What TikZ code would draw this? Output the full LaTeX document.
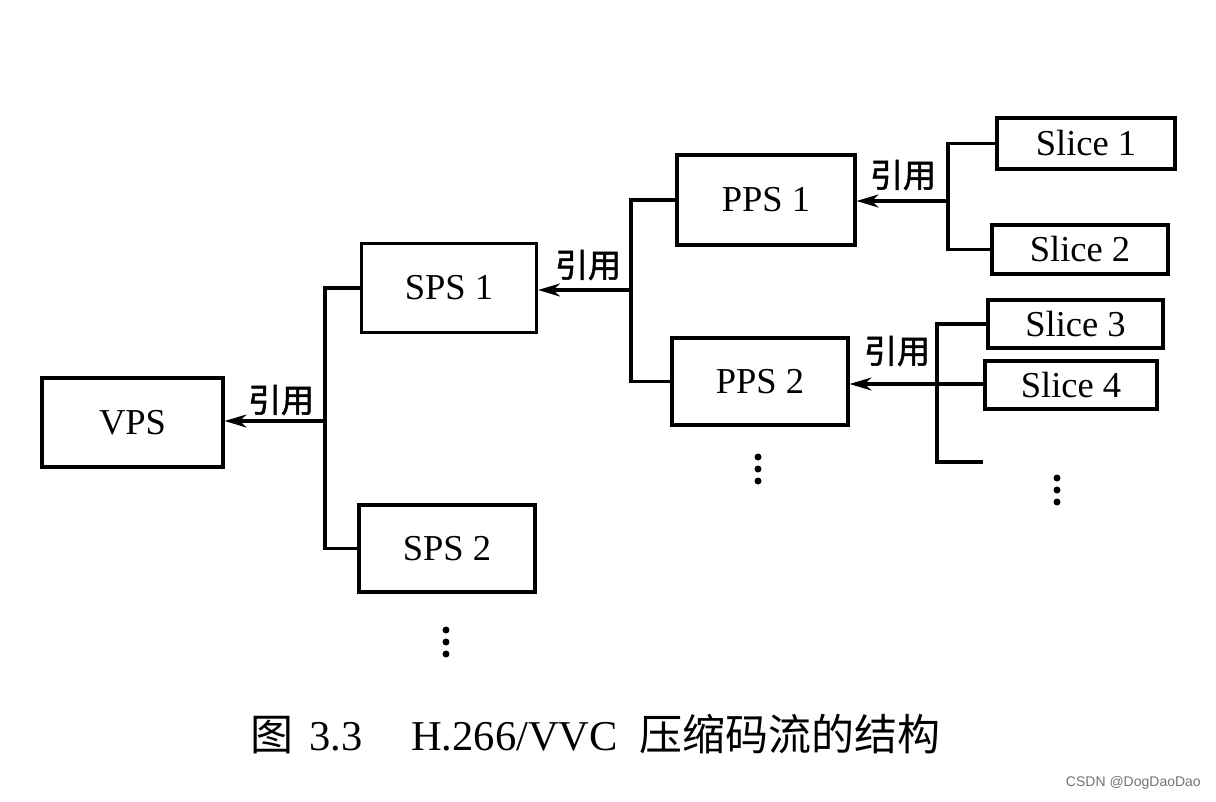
\documentclass[tikz,border=0pt]{standalone}
\usepackage{fontspec}
\setmainfont{Liberation Serif}
\newfontfamily\cjk{Noto Sans CJK SC}
\newfontfamily\cjkb[FakeBold=1.6]{Noto Sans CJK SC}
\newfontfamily\wmfont{Liberation Sans}
\usetikzlibrary{arrows.meta}
\begin{document}
\begin{tikzpicture}[x=1pt,y=-1pt,
  box/.style={draw,line width=3.1pt,inner sep=0pt,font=\fontsize{36.5}{40}\selectfont},
  slicebox/.style={box,minimum height=49pt},
  line/.style={line width=3.1pt},
  arr/.style={line width=3.1pt,-{Stealth[length=22pt,width=13pt,inset=7pt]}},
  refl/.style={font=\cjkb\fontsize{33}{36}\selectfont,inner sep=0pt},
  dot/.style={circle,fill,inner sep=0pt,minimum size=7pt}]
\useasboundingbox (0,0) rectangle (1216,801);
% boxes
\node[box,minimum width=181pt,minimum height=89pt] (vps) at (132.5,422.5) {VPS};
\node[box,minimum width=175pt,minimum height=89pt] (sps1) at (449,288) {SPS 1};
\node[box,minimum width=176pt,minimum height=87pt] (sps2) at (447,548.5) {SPS 2};
\node[box,minimum width=178pt,minimum height=90pt] (pps1) at (766,200) {PPS 1};
\node[box,minimum width=176pt,minimum height=87pt] (pps2) at (760,381.5) {PPS 2};
\node[slicebox,minimum width=178pt,minimum height=51pt] (s1) at (1086,143.5) {Slice 1};
\node[slicebox,minimum width=176pt] (s2) at (1080,249.5) {Slice 2};
\node[slicebox,minimum width=175pt,minimum height=48pt] (s3) at (1075.5,324) {Slice 3};
\node[slicebox,minimum width=172pt,minimum height=48pt] (s4) at (1071,385) {Slice 4};
% trunks
\coordinate (t1) at (325,421);
\coordinate (t2) at (631,290);
\coordinate (t3) at (948,201);
\coordinate (t4) at (937,384);
\coordinate (stub) at (983,462);
% VPS level
\draw[line] (sps1.west) -- (sps1.west -| t1) -- (sps2.west -| t1) -- (sps2.west);
\draw[arr] (t1) -- (t1 -| vps.east);
\node[refl] (r1) at (281,400) {引用};
% SPS level
\draw[line] (pps1.west) -- (pps1.west -| t2) -- (pps2.west -| t2) -- (pps2.west);
\draw[arr] (t2) -- (t2 -| sps1.east);
\node[refl] (r2) at (588,265) {引用};
% PPS1 level
\draw[line] (s1.west) -- (s1.west -| t3) -- (s2.west -| t3) -- (s2.west);
\draw[arr] (t3) -- (t3 -| pps1.east);
\node[refl] (r3) at (903,175) {引用};
% PPS2 level
\draw[line] (s3.west) -- (s3.west -| t4) -- (stub -| t4) -- (stub);
\draw[arr] (s4.west |- t4) -- (t4 -| pps2.east);
\node[refl] (r4) at (897,351) {引用};
% dots
\foreach \y [count=\i] in {630,642,654} {
  \node[dot] (da\i) at (446,\y) {};
  \node[dot] (db\i) at (758,\y-173) {};
  \node[dot] (dc\i) at (1057,\y-152) {};
}
% caption
\node[anchor=base west,inner sep=0pt] (cap) at (250,750)
  {\fontsize{42.5}{46}\selectfont{\cjk\fontsize{43}{46}\selectfont 图}\hspace{0.38em}3.3\hspace{1.15em}H.266/VVC\hspace{0.5em}{\cjk\fontsize{43}{46}\selectfont 压缩码流的结构}};
\node[anchor=east,inner sep=0pt,text=black!55] (wm) at (1201,783)
  {\wmfont\fontsize{14}{16}\selectfont CSDN @DogDaoDao};
\end{tikzpicture}
\end{document}
